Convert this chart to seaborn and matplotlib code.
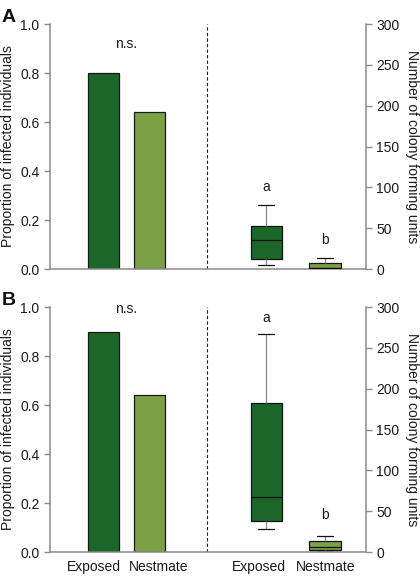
import numpy as np
import pandas as pd
import matplotlib
matplotlib.use("Agg")
import matplotlib.pyplot as plt
import seaborn as sns

sns.set_theme(style="ticks")
plt.rcParams["font.family"] = ["Liberation Sans", "DejaVu Sans"]
plt.rcParams["font.size"] = 10

# --- datos ---
groups = ["Exposed", "Nestmate"]
panels = ["A", "B"]
# proporcion de individuos infectados (barras)
prop = {"A": [0.80, 0.64], "B": [0.90, 0.64]}
# resumen de cinco numeros de las UFC (min, q1, mediana, q3, max)
cfu = {
    "A": {"Exposed": [4.5, 12.5, 36, 53, 78], "Nestmate": [0, 0.8, 1.5, 7, 13]},
    "B": {"Exposed": [28.6, 37.6, 67, 182, 266.5], "Nestmate": [0, 2.9, 5.7, 13.9, 20]},
}
letters = ["a", "b"]
letter_y = {"A": [100, 35], "B": [286, 45]}
ns_y = {"A": 0.92, "B": 0.99}

colors = ["#1b672a", "#7ca046"]
gray = "#8a8a8a"

# posiciones en unidades del eje x (0..10)
bar_pos = [1.7, 3.15]
box_pos = [6.85, 8.7]
label_pos = [1.4, 3.45, 6.62, 8.72]
sep_x = 4.97

fig = plt.figure(figsize=(4.2, 5.79), dpi=100)
ax_rects = {"A": [0.119, 0.5354, 0.752, 0.4231], "B": [0.119, 0.0466, 0.752, 0.4231]}

for p in panels:
    ax = fig.add_axes(ax_rects[p])
    ax2 = ax.twinx()

    bars = pd.DataFrame({"x": bar_pos, "y": prop[p], "group": groups})
    sns.barplot(data=bars, x="x", y="y", hue="group", palette=colors,
                native_scale=True, width=1.0 / (bar_pos[1] - bar_pos[0]),
                saturation=1, edgecolor="#1a1a1a", linewidth=0.9,
                legend=False, ax=ax)

    rows = []
    for g, xpos in zip(groups, box_pos):
        for v in cfu[p][g]:
            rows.append({"x": xpos, "y": v, "group": g})
    boxes = pd.DataFrame(rows)
    sns.boxplot(data=boxes, x="x", y="y", hue="group", palette=colors,
                native_scale=True, width=1.0 / (box_pos[1] - box_pos[0]),
                saturation=1, whis=(0, 100), linecolor="#111111", linewidth=0.9,
                whiskerprops={"color": gray}, legend=False, ax=ax2)

    ax.set_xlim(0, 10)
    ax.set_ylim(0, 1.0)
    ax2.set_ylim(0, 300)
    ax.set_yticks(np.arange(0, 1.01, 0.2))
    ax.set_yticklabels([f"{t:.1f}" for t in np.arange(0, 1.01, 0.2)])
    ax2.set_yticks(np.arange(0, 301, 50))

    ax.axvline(sep_x, color="#222222", lw=0.8, ls=(0, (3, 2)))

    for s in ["top", "right"]:
        ax.spines[s].set_visible(False)
    for s in ["top", "left", "bottom"]:
        ax2.spines[s].set_visible(False)
    for s in ["left", "bottom"]:
        ax.spines[s].set_color(gray)
        ax.spines[s].set_linewidth(1.1)
    ax2.spines["right"].set_color(gray)
    ax2.spines["right"].set_linewidth(1.1)
    ax.tick_params(axis="y", colors=gray, labelcolor="#1a1a1a", labelsize=10, length=4, width=1.0)
    ax2.tick_params(axis="y", colors=gray, labelcolor="#1a1a1a", labelsize=10, length=4, width=1.0)

    ax.set_ylabel("Proportion of infected individuals", fontsize=10, labelpad=4, color="#1a1a1a")
    ax2.set_ylabel("Number of colony forming units", fontsize=10, rotation=270,
                   labelpad=14, color="#1a1a1a")
    ax.set_xlabel("")
    ax2.set_xlabel("")

    ax.tick_params(axis="x", length=0, labelsize=10, labelcolor="#1a1a1a", pad=6)
    if p == "B":
        ax.set_xticks(label_pos)
        ax.set_xticklabels(groups + groups)
    else:
        ax.set_xticks([])

    ax.text(np.mean(bar_pos), ns_y[p], "n.s.", ha="center", va="center",
            fontsize=10, color="#1a1a1a")
    for xpos, lt, yv in zip(box_pos, letters, letter_y[p]):
        ax2.text(xpos, yv, lt, ha="center", va="center", fontsize=10, color="#1a1a1a")

    ax.text(-0.152, 1.06, p, transform=ax.transAxes, fontsize=14,
            fontweight="bold", ha="left", va="top", color="#111111")

fig.savefig("out.png", dpi=100)
